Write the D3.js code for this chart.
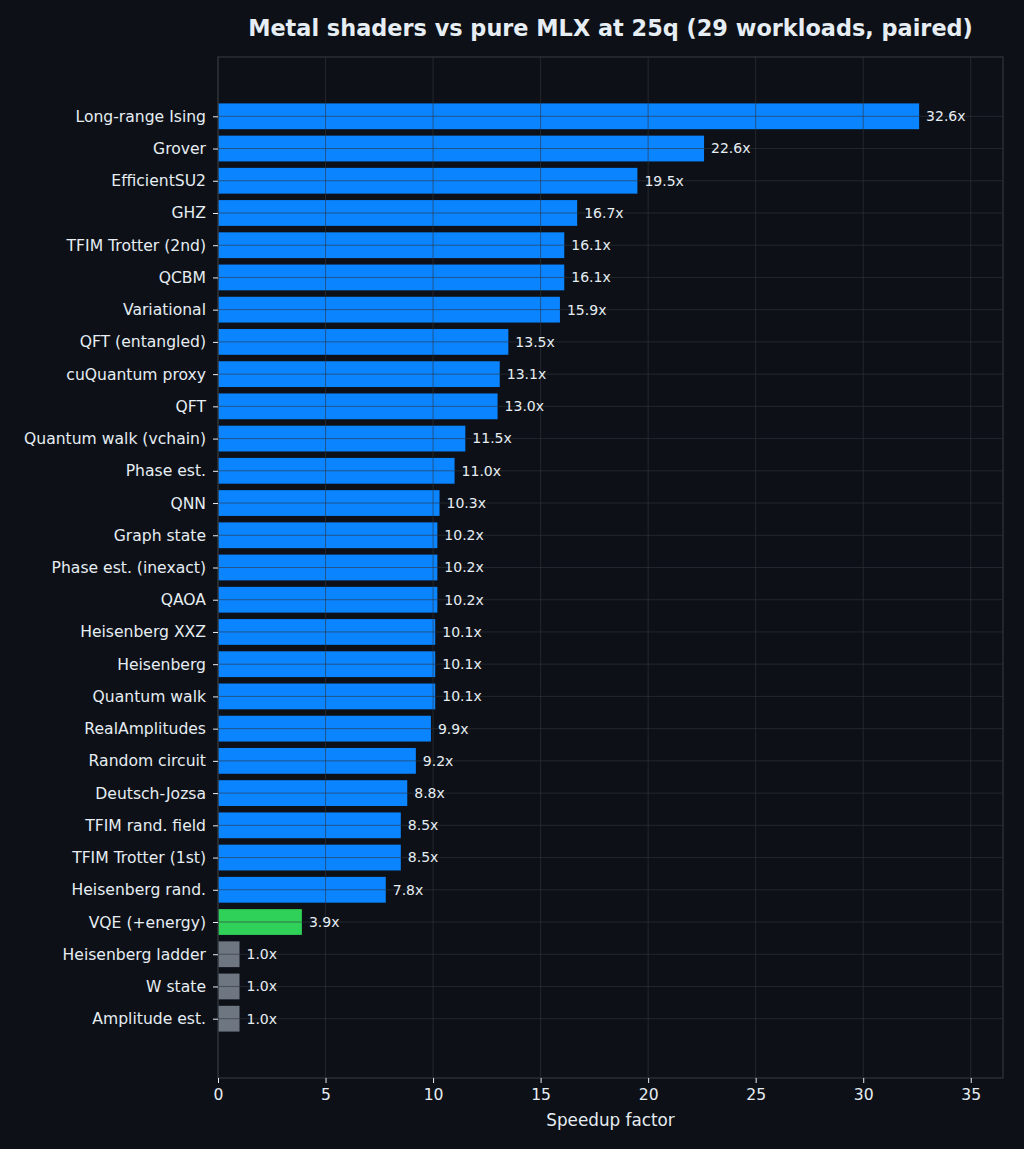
<!DOCTYPE html>
<html>
<head>
<meta charset="utf-8">
<script src="https://cdn.jsdelivr.net/npm/d3@7"></script>
<style>
  html, body { margin: 0; padding: 0; background: #0d1117; }
  svg { display: block; }
  text { font-family: "DejaVu Sans", sans-serif; }
</style>
</head>
<body>
<div id="chart"></div>
<script>
// workloads, top to bottom
var workloads = ["Long-range Ising", "Grover", "EfficientSU2", "GHZ",
    "TFIM Trotter (2nd)", "QCBM", "Variational", "QFT (entangled)",
    "cuQuantum proxy", "QFT", "Quantum walk (vchain)", "Phase est.", "QNN",
    "Graph state", "Phase est. (inexact)", "QAOA", "Heisenberg XXZ",
    "Heisenberg", "Quantum walk", "RealAmplitudes", "Random circuit",
    "Deutsch-Jozsa", "TFIM rand. field", "TFIM Trotter (1st)",
    "Heisenberg rand.", "VQE (+energy)", "Heisenberg ladder", "W state",
    "Amplitude est."];
var speedups = [32.6, 22.6, 19.5, 16.7, 16.1, 16.1, 15.9, 13.5, 13.1, 13.0,
    11.5, 11.0, 10.3, 10.2, 10.2, 10.2, 10.1, 10.1, 10.1, 9.9, 9.2, 8.8,
    8.5, 8.5, 7.8, 3.9, 1.0, 1.0, 1.0];
var kinds = ["win", "win", "win", "win", "win", "win", "win", "win", "win",
    "win", "win", "win", "win", "win", "win", "win", "win", "win", "win",
    "win", "win", "win", "win", "win", "win", "partial", "same", "same",
    "same"];
var xTicks = [0, 5, 10, 15, 20, 25, 30, 35];

(function () {
    "use strict";

    var W = 1024, H = 1149,
        m = {top: 57, right: 21, bottom: 71, left: 218},
        iw = W - m.left - m.right,
        ih = H - m.top - m.bottom,
        fg = "#e6edf3", spine = "#30363d";

    var color = d3.scaleOrdinal()
        .domain(["win", "partial", "same"])
        .range(["#0a84ff", "#30d158", "#6e7681"]);

    var x = d3.scaleLinear().domain([0, 36.5]).range([0, iw]);
    var y = d3.scaleLinear()
        .domain([-1.84, workloads.length - 1 + 1.84])
        .range([0, ih]);
    var band = y(1) - y(0),
        barh = band * 0.8;

    var svg = d3.select("#chart").append("svg")
        .attr("width", W).attr("height", H);
    svg.append("rect").attr("width", W).attr("height", H)
        .attr("fill", "#0d1117");

    var g = svg.append("g")
        .attr("transform", "translate(" + m.left + "," + m.top + ")");

    // bars
    g.selectAll("rect.bar").data(speedups).enter().append("rect")
        .attr("class", "bar")
        .attr("x", x(0))
        .attr("y", function (d, i) { return y(i) - barh / 2; })
        .attr("width", function (d) { return x(d) - x(0); })
        .attr("height", barh)
        .attr("fill", function (d, i) { return color(kinds[i]); });

    // grid drawn on top of bars
    var grid = g.append("g").attr("stroke", spine)
        .attr("stroke-opacity", 0.6).attr("stroke-width", 1);
    grid.selectAll("line.vx").data(xTicks).enter().append("line")
        .attr("x1", function (d) { return x(d); })
        .attr("x2", function (d) { return x(d); })
        .attr("y1", 0).attr("y2", ih);
    grid.selectAll("line.hy").data(workloads).enter().append("line")
        .attr("x1", 0).attr("x2", iw)
        .attr("y1", function (d, i) { return y(i); })
        .attr("y2", function (d, i) { return y(i); });

    // value labels
    g.selectAll("text.val").data(speedups).enter().append("text")
        .attr("class", "val")
        .attr("x", function (d) { return x(d) + 7; })
        .attr("y", function (d, i) { return y(i); })
        .attr("dy", "0.35em")
        .attr("fill", fg)
        .style("font-size", "14px")
        .text(function (d) { return d.toFixed(1) + "x"; });

    // frame
    g.append("rect").attr("width", iw).attr("height", ih)
        .attr("fill", "none").attr("stroke", spine).attr("stroke-width", 1.2);

    // axes
    var xAxis = g.append("g")
        .attr("transform", "translate(0," + ih + ")")
        .call(d3.axisBottom(x).tickValues(xTicks).tickSize(5)
            .tickPadding(6).tickFormat(d3.format("d")));
    var yAxis = g.append("g")
        .call(d3.axisLeft(y).tickValues(d3.range(workloads.length))
            .tickSize(5).tickPadding(7)
            .tickFormat(function (i) { return workloads[i]; }));
    [xAxis, yAxis].forEach(function (a) {
        a.select(".domain").remove();
        a.selectAll(".tick line").attr("stroke", fg);
        a.selectAll(".tick text").attr("fill", fg)
            .style("font-family", "DejaVu Sans, sans-serif")
            .style("font-size", "15.6px");
    });

    // labels
    svg.append("text")
        .attr("x", m.left + iw / 2).attr("y", 36)
        .attr("text-anchor", "middle").attr("fill", fg)
        .style("font-size", "22.4px").style("font-weight", "bold")
        .text("Metal shaders vs pure MLX at 25q (29 workloads, paired)");
    svg.append("text")
        .attr("x", m.left + iw / 2).attr("y", 1126)
        .attr("text-anchor", "middle").attr("fill", fg)
        .style("font-size", "16.8px")
        .text("Speedup factor");
}());
</script>
</body>
</html>
